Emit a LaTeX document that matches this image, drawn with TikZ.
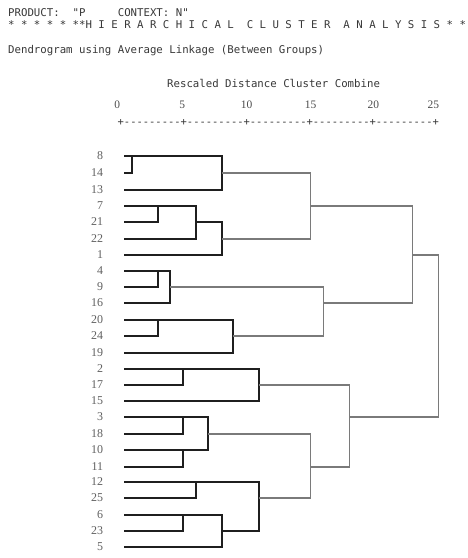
\documentclass[tikz,border=0pt]{standalone}
\usepackage{fontspec}
\newfontfamily\monof{DejaVu Sans Mono}
\newfontfamily\serf{Liberation Serif}
\newcommand{\mrg}[6]{%
  \coordinate (#1) at (#2,0 |- s#3);
  \draw[#6] (#4) -| (#1) |- (#5);
}
\begin{document}
\begin{tikzpicture}[x=1bp,y=-1bp,
  lbl/.style={font=\serf\fontsize{12}{12}\selectfont, text=black!62, anchor=east, inner sep=0pt},
  hdr/.style={font=\monof\fontsize{10.75}{12}\selectfont, text=black!78, anchor=base west, inner sep=0pt},
  num/.style={font=\serf\fontsize{11.5}{11.5}\selectfont, text=black!70, anchor=base, inner sep=0pt},
  blk/.style={line width=2bp, draw=black!88},
  gry/.style={line width=1.3bp, draw=black!52}]
\useasboundingbox[fill=white] (0,0) rectangle (468,558);
% header
\node[hdr] (h1) at (8,16.7) {PRODUCT:~~"P~~~~~CONTEXT:~N"};
\node[hdr] (h2) at (8,29) {*~*~*~*~*~**H~I~E~R~A~R~C~H~I~C~A~L~~C~L~U~S~T~E~R~~A~N~A~L~Y~S~I~S~*~*};
\node[hdr] (h3) at (8,53.5) {Dendrogram using Average Linkage (Between Groups)};
\node[hdr] (h4) at (167,88) {Rescaled Distance Cluster Combine};
% scale
\node[num] (n0) at (117.3,108.3) {0};
\node[num] (n5) at (182.3,108.3) {5};
\node[num] (n10) at (246.7,108.3) {10};
\node[num] (n15) at (310.7,108.3) {15};
\node[num] (n20) at (373.3,108.3) {20};
\node[num] (n25) at (433.3,108.3) {25};
\node[hdr, font=\monof\fontsize{10.5}{12}\selectfont] (axis) at (117.5,125.3) {+---------+---------+---------+---------+---------+};
% leaves
\foreach \lab/\yy [count=\i from 0] in {8/156,14/173,13/190,7/206,21/222,22/239,1/255,4/271,9/287,16/303,20/320,24/336,19/353,2/369,17/385,15/401,3/417,18/434,10/450,11/467,12/482,25/498,6/515,23/531,5/547} {
  \node[lbl] (l\i) at (103.3,\yy) {\lab};
  \coordinate (s\i) at (124,\yy);
}
% merges
\mrg{a1}{132}{0}{s0}{s1}{blk}
\mrg{A}{222}{1}{a1}{s2}{blk}
\mrg{b1}{158}{3}{s3}{s4}{blk}
\mrg{b2}{196}{4}{b1}{s5}{blk}
\mrg{B}{222}{5}{b2}{s6}{blk}
\mrg{c1}{158}{7}{s7}{s8}{blk}
\mrg{C}{170}{8}{c1}{s9}{blk}
\mrg{d1}{158}{10}{s10}{s11}{blk}
\mrg{D}{233}{11}{d1}{s12}{blk}
\mrg{e1}{183}{13}{s13}{s14}{blk}
\mrg{E}{259}{14}{e1}{s15}{blk}
\mrg{f1}{183}{16}{s16}{s17}{blk}
\mrg{f2}{183}{18}{s18}{s19}{blk}
\mrg{F}{208}{17}{f1}{f2}{blk}
\mrg{g1}{196}{20}{s20}{s21}{blk}
\mrg{g2}{183}{22}{s22}{s23}{blk}
\mrg{g3}{222}{23}{g2}{s24}{blk}
\mrg{G}{259}{21}{g1}{g3}{blk}
\mrg{AB}{310.7}{3}{A}{B}{gry}
\mrg{CD}{323.3}{9}{C}{D}{gry}
\mrg{ABCD}{412.7}{6}{AB}{CD}{gry}
\mrg{FG}{310.7}{19}{F}{G}{gry}
\mrg{EFG}{349.3}{16}{E}{FG}{gry}
\mrg{ALL}{438.3}{6}{ABCD}{EFG}{gry}
\end{tikzpicture}
\end{document}
